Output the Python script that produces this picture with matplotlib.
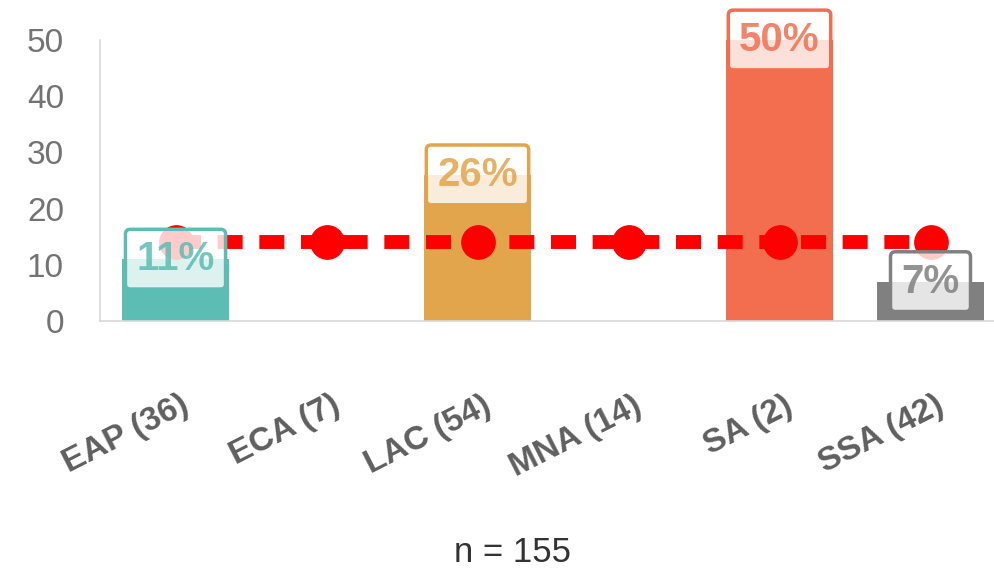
import matplotlib.pyplot as plt
from matplotlib.transforms import blended_transform_factory

# regions with sample sizes, share of respondents (%) and overall average
regions = ["EAP (36)", "ECA (7)", "LAC (54)", "MNA (14)", "SA (2)", "SSA (42)"]
shares = [11, 0, 26, 0, 50, 7]
labels = ["11%", "", "26%", "", "50%", "7%"]
average = [14, 14, 14, 14, 14, 14]
colors = ["#5BBDB4", "#5BBDB4", "#E3A54B", "#E3A54B", "#F26E4F", "#808080"]

plt.rcParams["font.family"] = ["Liberation Sans", "DejaVu Sans"]

fig = plt.figure(figsize=(9.95, 5.75), dpi=100)
ax = fig.add_axes([100 / 995, 1 - 321 / 575, 906 / 995, 281 / 575])

x = list(range(len(regions)))
ax.bar(x, shares, width=0.715, color=colors, zorder=2)

ax.plot(x, average, color="#FF0000", lw=10, linestyle=(0, (1.8, 1.2)),
        marker="o", markersize=24, zorder=3)

for i, (v, lab) in enumerate(zip(shares, labels)):
    if not lab:
        continue
    ax.text(i, v, lab, ha="center", va="center", fontsize=29, fontweight="bold",
            color=colors[i], alpha=0.85, zorder=5, clip_on=False,
            bbox=dict(boxstyle="round,pad=0.27,rounding_size=0.12",
                      facecolor=(1, 1, 1, 0.8), edgecolor=colors[i], lw=2.5))

ax.set_xlim(-0.5, len(regions) - 0.5)
ax.set_ylim(0, 50)
ax.set_yticks([0, 10, 20, 30, 40, 50])
ax.set_xticks([])
ax.tick_params(axis="y", length=0, pad=26, labelsize=24, labelcolor="#737373")

for side in ["top", "right"]:
    ax.spines[side].set_visible(False)
ax.spines["left"].set_color("#D9D9D9")
ax.spines["bottom"].set_color("#D9D9D9")
ax.spines["left"].set_linewidth(1.2)
ax.spines["bottom"].set_linewidth(1.2)

trans = blended_transform_factory(ax.transData, ax.transAxes)
for i, name in enumerate(regions):
    ax.text(i + 0.03, -0.245, name, transform=trans, rotation=27,
            rotation_mode="anchor", ha="right", va="top",
            fontsize=24, fontweight="bold", color="#5F5F5F")

fig.text(513 / 995, 1 - 553 / 575, "n = 155", ha="center", va="center",
         fontsize=25, color="#333333")

fig.savefig("out.png", dpi=100)
